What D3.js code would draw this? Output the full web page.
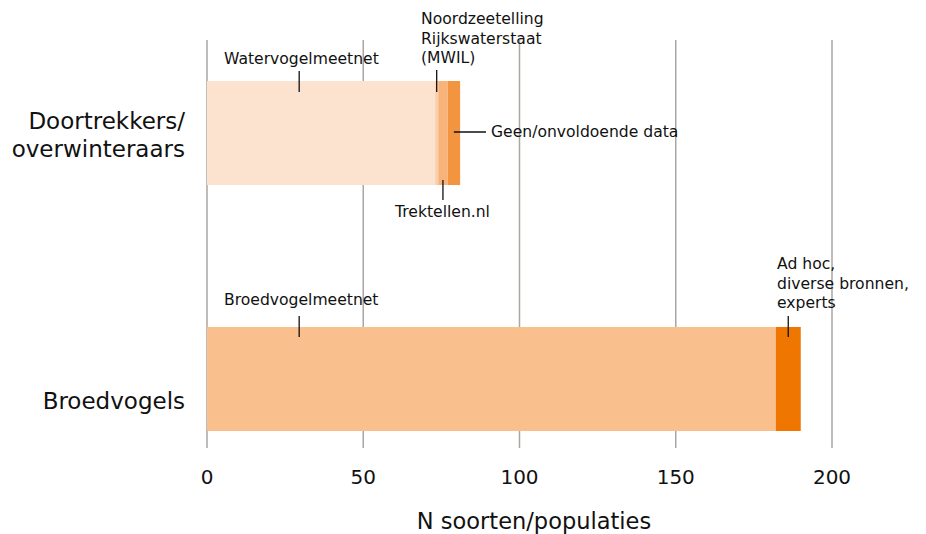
<!DOCTYPE html>
<html><head><meta charset="utf-8">
<script src="https://cdn.jsdelivr.net/npm/d3@7"></script>
<style>body{margin:0;background:#fff}svg{display:block}text{font-family:"DejaVu Sans",Verdana,sans-serif;fill:#111}</style>
</head><body><svg id="c" width="926" height="534"></svg>
<script>
const categories = ["Doortrekkers/\noverwinteraars", "Broedvogels"];
const sources = ["Watervogelmeetnet","Noordzeetelling Rijkswaterstaat (MWIL)","Trektellen.nl","Geen/onvoldoende data","Broedvogelmeetnet","Ad hoc, diverse bronnen, experts"];
const doortrekkers = [73, 1, 3, 4, 0, 0];
const broedvogels = [0, 0, 0, 0, 182, 8];
const colors = ["#fce3d0","#fbcfaa","#f8b37a","#f39440","#f9c08d","#ee7601"];
const tickValues = [0, 50, 100, 150, 200];
const xTitle = "N soorten/populaties";

const svg = d3.select("#c");
const x = d3.scaleLinear().domain([0, 200]).range([207, 832]);
const y = d3.scaleBand().domain(categories).range([81, 431]).paddingInner(0.5772).paddingOuter(0);

// grid
svg.append("g").selectAll("line").data(tickValues).join("line")
  .attr("x1", d => x(d)).attr("x2", d => x(d)).attr("y1", 40).attr("y2", 448)
  .attr("stroke", "#aaa6a2").attr("stroke-width", 1.5);

// bars
const rows = [doortrekkers, broedvogels];
rows.forEach((vals, i) => {
  let cum = 0;
  const segs = vals.map((v, j) => { const s = {x0: cum, x1: cum + v, c: colors[j]}; cum += v; return s; }).filter(s => s.x1 > s.x0);
  svg.append("g").selectAll("rect").data(segs).join("rect")
    .attr("x", d => x(d.x0)).attr("width", d => x(d.x1) - x(d.x0))
    .attr("y", y(categories[i])).attr("height", y.bandwidth())
    .attr("fill", d => d.c);
});

// category labels
const catY = [135, 401];
categories.forEach((c, i) => {
  const lines = c.split("\n");
  const t = svg.append("text").attr("text-anchor", "end").attr("font-size", 23);
  lines.forEach((l, k) => {
    t.append("tspan").attr("x", 185)
      .attr("y", catY[i] + (k - (lines.length - 1) / 2) * 28)
      .attr("dy", "0.35em").text(l);
  });
});

// axis ticks labels
svg.append("g").selectAll("text").data(tickValues).join("text")
  .attr("x", d => x(d)).attr("y", 477).attr("dy", "0.35em")
  .attr("text-anchor", "middle").attr("font-size", 20).text(d => d);

svg.append("text").attr("x", 534).attr("y", 521).attr("dy", "0.35em")
  .attr("text-anchor", "middle").attr("font-size", 22.5).text(xTitle);

// annotations
const t0 = y(categories[0]), t1 = y(categories[1]);
const ann = svg.append("g");
function vline(xv, y1, y2) {
  ann.append("line").attr("x1", x(xv)).attr("x2", x(xv)).attr("y1", y1).attr("y2", y2).attr("stroke", "#111").attr("stroke-width", 1.3);
}
function label(lines, xp, yFirst) {
  const t = ann.append("text").attr("font-size", 15.6);
  lines.forEach((l, k) => t.append("tspan").attr("x", xp).attr("y", yFirst + k * 19.5).text(l));
}
// Watervogelmeetnet
vline(29.5, t0 - 10, t0 + 11);
label(["Watervogelmeetnet"], 224, 64);
// Noordzeetelling
vline(73.5, t0 - 11, t0 + 11);
label(["Noordzeetelling", "Rijkswaterstaat", "(MWIL)"], 421, 24);
// Trektellen
const b0 = t0 + y.bandwidth();
vline(75.5, b0 - 5, b0 + 15);
label(["Trektellen.nl"], 395, 217);
// Geen
ann.append("line").attr("x1", x(79)).attr("x2", 486).attr("y1", 132).attr("y2", 132).attr("stroke", "#111").attr("stroke-width", 1.3);
label(["Geen/onvoldoende data"], 491, 137);
// Broedvogelmeetnet
vline(29.5, t1 - 11, t1 + 10);
label(["Broedvogelmeetnet"], 224, 305);
// Ad hoc
vline(186, t1 - 11, t1 + 10);
label(["Ad hoc,", "diverse bronnen,", "experts"], 777, 269);
</script></body></html>
